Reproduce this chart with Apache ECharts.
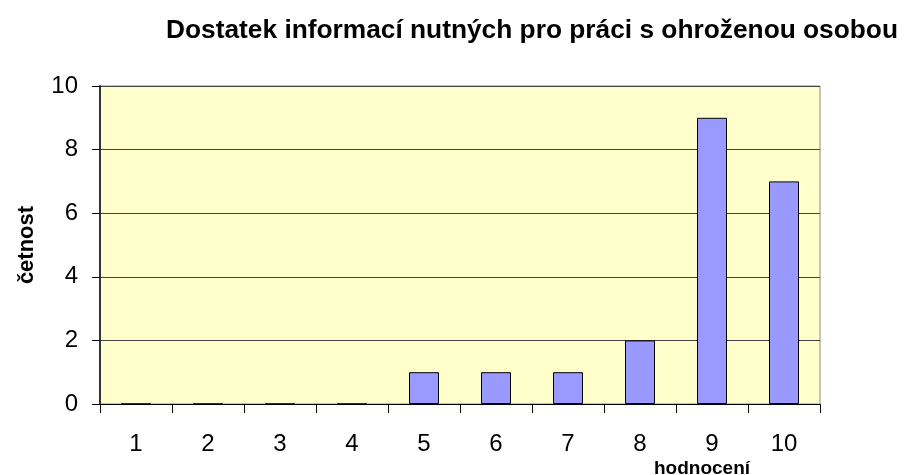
<!DOCTYPE html>
<html lang="cs">
<head>
    <meta charset="UTF-8">
    <title>Dostatek informací</title>
    <script src="https://cdn.jsdelivr.net/npm/echarts/dist/echarts.min.js"></script>
    <style>
        html, body { margin: 0; padding: 0; background: #fff; }
        #chart1 { width: 904px; height: 475px; }
    </style>
</head>
<body>
<div id="chart1"></div>
<script type="text/javascript">
    var categories = ['1', '2', '3', '4', '5', '6', '7', '8', '9', '10'];
    var counts = [0, 0, 0, 0, 1, 1, 1, 2, 9, 7];

    var chart1 = echarts.init(document.getElementById('chart1'));
    var option = {
        backgroundColor: '#fff',
        animation: false,
        textStyle: { fontFamily: 'Liberation Sans, Arial, sans-serif' },
        title: [{
            text: 'Dostatek informací nutných pro práci s ohroženou osobou',
            left: 527, top: 13, textAlign: 'center',
            textStyle: { fontSize: 26.3, fontWeight: 'bold', color: '#000' }
        }, {
            text: 'hodnocení',
            left: 697, top: 454, textAlign: 'center',
            textStyle: { fontSize: 19, fontWeight: 'bold', color: '#000' }
        }],
        grid: {
            left: 100, right: 84, top: 86, bottom: 71,
            show: true, backgroundColor: '#ffffcc', borderColor: '#888', borderWidth: 1
        },
        xAxis: {
            type: 'category',
            data: categories,
            axisLine: { lineStyle: { color: '#000', width: 1 } },
            axisTick: { show: true, length: 9, lineStyle: { color: '#000' } },
            axisLabel: { fontSize: 24, color: '#000', margin: 28 }
        },
        yAxis: {
            type: 'value',
            min: 0, max: 10, interval: 2,
            name: 'četnost',
            nameLocation: 'middle',
            nameGap: 62,
            nameTextStyle: { fontSize: 22, fontWeight: 'bold', color: '#000' },
            axisLine: { show: true, lineStyle: { color: '#333', width: 2 } },
            axisTick: { show: true, length: 8, lineStyle: { color: '#000' } },
            axisLabel: { fontSize: 24, color: '#000', margin: 22 },
            splitLine: { show: true, lineStyle: { color: '#444', width: 1 } }
        },
        series: [{
            type: 'bar',
            data: counts,
            barWidth: 30,
            itemStyle: { color: '#9999ff', borderColor: '#000', borderWidth: 1 }
        }]
    };
    chart1.setOption(option);
</script>
</body>
</html>
